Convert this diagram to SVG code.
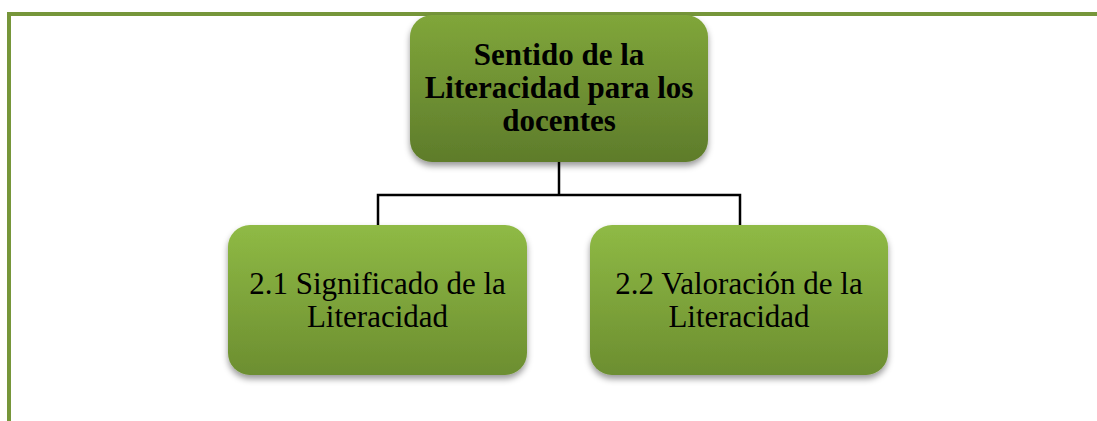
<svg xmlns="http://www.w3.org/2000/svg" width="1097" height="421" viewBox="0 0 1097 421">
<defs>
<linearGradient id="gTop" x1="0" y1="0" x2="0" y2="1">
<stop offset="0" stop-color="#80a63a"/>
<stop offset="1" stop-color="#5e7c2b"/>
</linearGradient>
<linearGradient id="gSub" x1="0" y1="0" x2="0" y2="1">
<stop offset="0" stop-color="#8fba45"/>
<stop offset="1" stop-color="#6c8e30"/>
</linearGradient>
<filter id="sh" x="-10%" y="-10%" width="120%" height="130%">
<feDropShadow dx="0" dy="4" stdDeviation="3" flood-color="#000" flood-opacity="0.4"/>
</filter>
</defs>
<style>
.border{fill:none;stroke:#76963a;stroke-width:4}
.conn{fill:none;stroke:#000;stroke-width:2.5}
.t{font-family:"Liberation Serif","Times New Roman",serif;font-size:31px;fill:#000;text-anchor:middle}
.b{font-weight:bold}
</style>
<path class="border" d="M9 421 V14 H1097"/>
<g id="connectors">
<path class="conn" d="M559 162 V195"/>
<path class="conn" d="M378 226 V195 H740 V226"/>
</g>
<g id="node-top">
<rect x="410" y="15" width="298" height="147" rx="22" fill="url(#gTop)" filter="url(#sh)"/>
<text class="t b" x="559" y="65">Sentido de la</text>
<text class="t b" x="559" y="98">Literacidad para los</text>
<text class="t b" x="559" y="131">docentes</text>
</g>
<g id="node-21">
<rect x="228" y="225" width="299" height="150" rx="22" fill="url(#gSub)" filter="url(#sh)"/>
<text class="t" x="377.5" y="294">2.1 Significado de la</text>
<text class="t" x="377.5" y="327">Literacidad</text>
</g>
<g id="node-22">
<rect x="590" y="225" width="298" height="150" rx="22" fill="url(#gSub)" filter="url(#sh)"/>
<text class="t" x="739" y="294">2.2 Valoración de la</text>
<text class="t" x="739" y="327">Literacidad</text>
</g>
</svg>
